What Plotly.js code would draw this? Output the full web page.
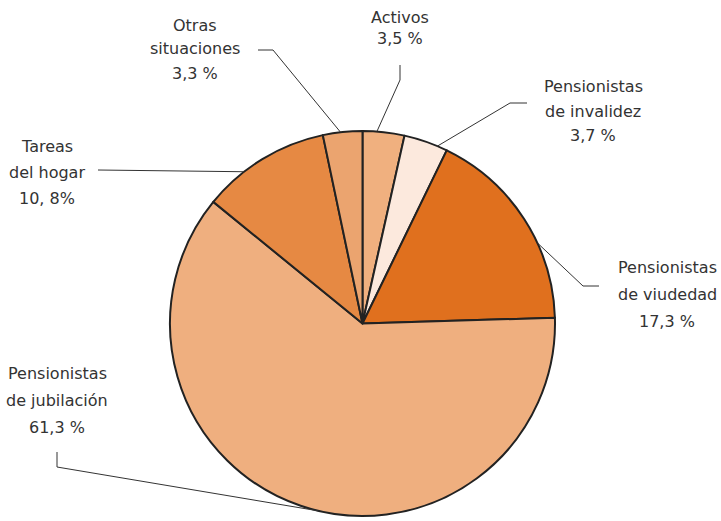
<!DOCTYPE html>
<html>
<head>
<meta charset="utf-8">
<script src="https://cdn.plot.ly/plotly-3.0.1.min.js"></script>
<style>html,body{margin:0;padding:0;background:#fff;}#chart{width:721px;height:521px;}</style>
</head>
<body>
<div id="chart"></div>
<script>
// ---- data ----
var categories = ["Activos", "Pensionistas de invalidez", "Pensionistas de viudedad",
                  "Pensionistas de jubilación", "Tareas del hogar", "Otras situaciones"];
var values = [3.5, 3.7, 17.3, 61.3, 10.8, 3.3];
var valueLabels = ["3,5 %", "3,7 %", "17,3 %", "61,3 %", "10, 8%", "3,3 %"];
var labelLines = [["Activos"], ["Pensionistas", "de invalidez"], ["Pensionistas", "de viudedad"],
                  ["Pensionistas", "de jubilación"], ["Tareas", "del hogar"], ["Otras", "situaciones"]];
var sliceColors = ["#F0B07F", "#FCE9DD", "#E0701E", "#EFAF7F", "#E68943", "#EBA46F"];

// ---- layout (pixels) ----
var W = 721, H = 521;
var cx = 362.5, cy = 323.5, R = 192.5;
// label text anchor (centre x, first line y), line spacing
var labelPos = [[400, 17, 22], [593, 87, 24], [667, 267, 27], [57, 373, 27], [47, 146, 26], [195, 25, 24]];
// position of leader start inside slice (fraction of slice's angular span)
var anchorFrac = [0.34, 0.77, 0.63, 0.475, 0.33, 0.45];
// leader elbow and end points
var elbows = [[400, 80], [510, 103], [583, 286], [57, 467], [98, 170], [273, 50]];
var ends = [[400, 65], [527, 103], [599, 286], [57, 452], [98, 170], [258, 50]];

function px(x) { return x / W; }
function py(y) { return 1 - y / H; }

var total = values.reduce(function (a, b) { return a + b; }, 0);
var annotations = [], shapes = [];
var cum = 0;
for (var i = 0; i < values.length; i++) {
  var a = (cum + values[i] * anchorFrac[i]) / total * 2 * Math.PI;
  cum += values[i];
  var sx = cx + R * Math.sin(a), sy = cy - R * Math.cos(a);
  shapes.push({
    type: "path", xref: "paper", yref: "paper",
    path: "M" + px(sx) + "," + py(sy) + " L" + px(elbows[i][0]) + "," + py(elbows[i][1]) +
          " L" + px(ends[i][0]) + "," + py(ends[i][1]),
    line: {color: "#333333", width: 1}
  });
  var lines = labelLines[i].concat([valueLabels[i]]);
  for (var k = 0; k < lines.length; k++) {
    annotations.push({
      xref: "paper", yref: "paper", x: px(labelPos[i][0]), y: py(labelPos[i][1] + k * labelPos[i][2]),
      xanchor: "center", yanchor: "middle", text: lines[k], showarrow: false,
      font: {family: "DejaVu Sans, Verdana, sans-serif", size: 16, color: "#333333"}
    });
  }
}

var trace = {
  type: "pie", labels: categories, values: values, sort: false, direction: "clockwise",
  rotation: 0, textinfo: "none", hoverinfo: "none",
  marker: {colors: sliceColors, line: {color: "#222222", width: 2}},
  domain: {x: [(cx - R) / W, (cx + R) / W], y: [1 - (cy + R) / H, 1 - (cy - R) / H]}
};

var layout = {
  width: W, height: H, margin: {l: 0, r: 0, t: 0, b: 0},
  paper_bgcolor: "#ffffff", showlegend: false,
  annotations: annotations, shapes: shapes
};

Plotly.newPlot("chart", [trace], layout, {staticPlot: true, displayModeBar: false});
</script>
</body>
</html>
